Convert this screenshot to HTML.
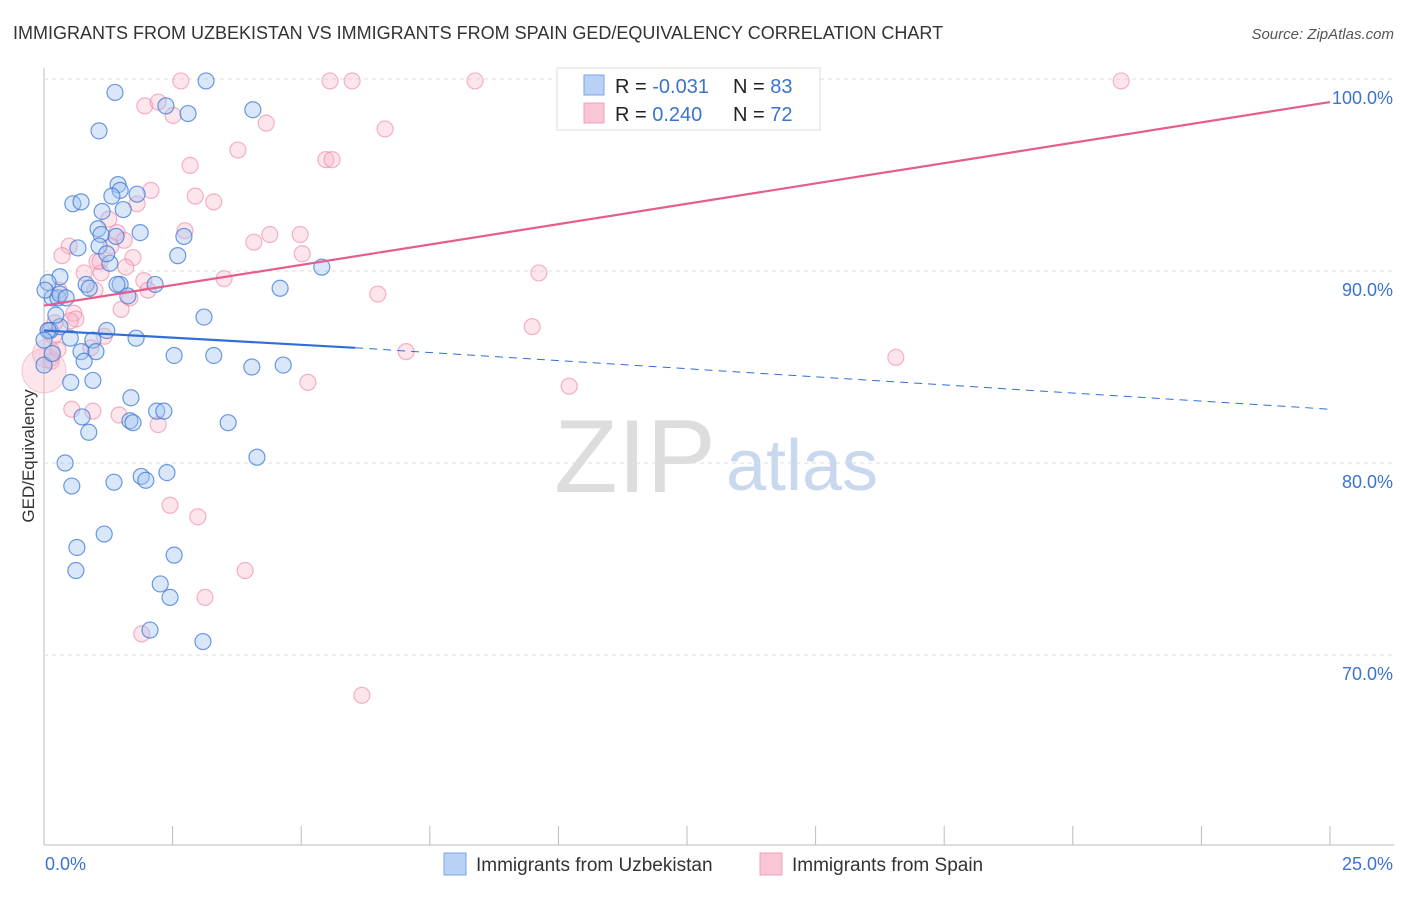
<!DOCTYPE html>
<html><head><meta charset="utf-8"><style>
body{margin:0;background:#fff;font-family:"Liberation Sans",sans-serif;}
svg text{font-family:"Liberation Sans",sans-serif;}
</style></head><body>
<svg id="chart" width="1406" height="892">
<text x="13" y="39" font-size="18" fill="#333">IMMIGRANTS FROM UZBEKISTAN VS IMMIGRANTS FROM SPAIN GED/EQUIVALENCY CORRELATION CHART</text>
<text x="1394" y="39" font-size="15" fill="#555" font-style="italic" text-anchor="end">Source: ZipAtlas.com</text>
<text x="34" y="456" font-size="17" fill="#333" text-anchor="middle" transform="rotate(-90 34 456)">GED/Equivalency</text>
<g><text x="635" y="492" font-size="104" fill="#ddd" font-family="Liberation Serif" text-anchor="middle">ZIP</text><text x="802" y="490" font-size="72" fill="#c8d8ee" text-anchor="middle">atlas</text></g>
<g id="grid"></g><g id="pts"></g><g id="lines"></g>
<g>
<rect x="557" y="68" width="263" height="62" fill="#fff" stroke="#ddd"/>
<rect x="584" y="75" width="20" height="20" fill="#b8d1f5" stroke="#7aa6e6"/>
<rect x="584" y="103" width="20" height="20" fill="#f9c6d5" stroke="#eea0b8"/>
<text x="615" y="93" font-size="20" fill="#222">R = <tspan fill="#3b73d1">-0.031</tspan></text>
<text x="733" y="93" font-size="20" fill="#222">N = <tspan fill="#3b73d1">83</tspan></text>
<text x="615" y="121" font-size="20" fill="#222">R = <tspan fill="#3b73d1"> 0.240</tspan></text>
<text x="733" y="121" font-size="20" fill="#222">N = <tspan fill="#3b73d1">72</tspan></text>
</g>
<g>
<rect x="444" y="853" width="22" height="22" fill="#b8d1f5" stroke="#7aa6e6"/>
<text x="476" y="871" font-size="19" fill="#333">Immigrants from Uzbekistan</text>
<rect x="760" y="853" width="22" height="22" fill="#f9c6d5" stroke="#eea0b8"/>
<text x="792" y="871" font-size="19" fill="#333">Immigrants from Spain</text>
</g>
</svg>
<script>
const xTicks=[0,2.5,5,7.5,10,12.5,15,17.5,20,22.5,25];
const yTicks=[70,80,90,100];
const yTickLabels=["70.0%","80.0%","90.0%","100.0%"];
const blueX=[1.38,1.07,3.15,2.80,2.37,4.06,0.56,0.72,1.44,1.48,1.32,1.81,1.13,1.54,1.05,1.40,1.87,1.11,2.72,0.66,1.07,1.28,1.22,2.60,0.31,0.08,0.16,0.27,0.82,0.88,1.48,1.42,1.63,2.16,4.59,5.40,3.11,0.12,0.31,0.23,1.22,1.79,0.51,0.95,0.72,1.01,0.78,2.53,3.30,4.04,4.65,0.52,0.95,1.69,0.74,1.67,1.73,2.19,2.33,3.58,0.87,4.14,0.41,0.54,1.36,1.89,1.98,2.39,1.17,0.64,2.53,0.62,2.26,2.45,2.06,3.09,0,0.08,0.02,0,0.31,0.43,0.16];
const blueY=[99.3,97.3,99.9,98.2,98.6,98.4,93.5,93.6,94.5,94.2,93.9,94.0,93.1,93.2,92.2,91.8,92.0,91.9,91.8,91.2,91.3,90.4,90.9,90.8,89.7,89.4,88.6,88.6,89.3,89.1,89.3,89.3,88.7,89.3,89.1,90.2,87.6,86.9,87.1,87.7,86.9,86.5,86.5,86.4,85.8,85.8,85.3,85.6,85.6,85.0,85.1,84.2,84.3,83.4,82.4,82.2,82.1,82.7,82.7,82.1,81.6,80.3,80.0,78.8,79.0,79.3,79.1,79.5,76.3,75.6,75.2,74.4,73.7,73.0,71.3,70.7,85.1,86.9,89.0,86.4,88.8,88.6,85.7];
const pinkX=[2.66,5.56,5.99,8.38,11.97,20.94,1.96,2.22,2.51,4.32,6.63,3.77,5.48,5.6,2.84,2.08,1.81,2.94,3.3,1.26,2.74,1.42,4.39,4.98,4.08,0.49,1.3,1.56,1.03,1.73,5.02,0.78,1.11,1.59,1.94,3.5,9.62,2.02,0.99,0.29,6.49,1.5,0.58,0.62,9.49,0.21,0.08,1.17,0.91,0.14,7.04,16.56,5.13,10.21,0.54,0.95,1.46,2.22,2.45,2.99,3.91,3.13,1.9,6.18,1.09,0.35,0.19,0.51,0.27,1.67];
const pinkY=[99.9,99.9,99.9,99.9,99.9,99.9,98.6,98.8,98.1,97.7,97.4,96.3,95.8,95.8,95.5,94.2,93.5,93.9,93.6,92.7,92.1,92.0,91.9,91.9,91.5,91.3,91.3,91.6,90.5,90.7,90.9,89.9,89.9,90.2,89.5,89.6,89.9,89.0,89.0,89.0,88.8,88.0,87.8,87.5,87.1,87.3,86.9,86.6,86.0,85.3,85.8,85.5,84.2,84.0,82.8,82.7,82.5,82.0,77.8,77.2,74.4,73.0,71.1,67.9,90.5,90.8,86.6,87.4,85.9,88.6];
const bigPinkX=[0,0.05];const bigPinkY=[84.8,85.7];
const blueTrend=[[0,86.9],[6.05,86.0],[25,82.8]];
const pinkTrend=[[0,88.2],[25,98.8]];
const NS="http://www.w3.org/2000/svg";
const X=v=>44+v/25*1286, Y=v=>79+(100-v)*19.2;
function mk(t,a,p){const e=document.createElementNS(NS,t);for(const k in a)e.setAttribute(k,a[k]);p.appendChild(e);return e;}
const grid=document.getElementById('grid');
mk('line',{x1:44,y1:68,x2:44,y2:845,stroke:'#bbb'},grid);
mk('line',{x1:44,y1:845,x2:1394,y2:845,stroke:'#bbb'},grid);
yTicks.forEach((t,i)=>{const l=mk('line',{x1:44,y1:Y(t),x2:1394,y2:Y(t),stroke:'#ddd','stroke-dasharray':'4,4'},grid);


const tx=mk('text',{x:1393,y:Y(t)+25,'font-size':18,fill:'#3b73d1','text-anchor':'end'},grid);tx.textContent=yTickLabels[i];

});
xTicks.forEach(t=>{const l=mk('line',{x1:X(t),y1:826,x2:X(t),y2:845,stroke:'#bbb'},grid);

});
const x0=mk('text',{x:45,y:870,'font-size':18,fill:'#3b73d1'},grid);x0.textContent='0.0%';


const x1=mk('text',{x:1393,y:870,'font-size':18,fill:'#3b73d1','text-anchor':'end'},grid);x1.textContent='25.0%';


const pts=document.getElementById('pts');
pinkX.forEach((v,i)=>{const c=mk('circle',{cx:X(v),cy:Y(pinkY[i]),r:8,fill:'rgba(248,180,200,0.35)',stroke:'rgba(236,130,160,0.6)','stroke-width':1.2},pts);

});
bigPinkX.forEach((v,i)=>{const c=mk('circle',{cx:X(v),cy:Y(bigPinkY[i]),r:i?14:22,fill:'rgba(248,180,200,0.35)',stroke:'rgba(236,130,160,0.4)'},pts);

});
blueX.forEach((v,i)=>{const c=mk('circle',{cx:X(v),cy:Y(blueY[i]),r:8,fill:'rgba(160,195,240,0.4)',stroke:'rgba(60,120,215,0.75)','stroke-width':1.2},pts);

});
const lines=document.getElementById('lines');
const b1=mk('line',{x1:X(blueTrend[0][0]),y1:Y(blueTrend[0][1]),x2:X(blueTrend[1][0]),y2:Y(blueTrend[1][1]),stroke:'#2f6fd6','stroke-width':2.2},lines);


const b2=mk('line',{x1:X(blueTrend[1][0]),y1:Y(blueTrend[1][1]),x2:X(blueTrend[2][0]),y2:Y(blueTrend[2][1]),stroke:'#2f6fd6','stroke-width':1,'stroke-dasharray':'8,6'},lines);


const p1=mk('line',{x1:X(pinkTrend[0][0]),y1:Y(pinkTrend[0][1]),x2:X(pinkTrend[1][0]),y2:Y(pinkTrend[1][1]),stroke:'#e55d8c','stroke-width':2.2},lines);


</script>
</body></html>
